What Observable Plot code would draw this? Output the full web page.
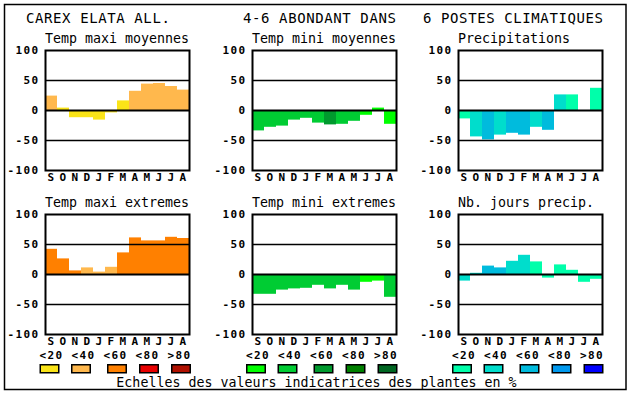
<!DOCTYPE html>
<html><head><meta charset="utf-8">
<script src="https://cdn.jsdelivr.net/npm/d3@7"></script>
<script src="https://cdn.jsdelivr.net/npm/@observablehq/plot@0.6"></script>
<style>
html,body{margin:0;padding:0;background:#fff;}
#root{position:relative;width:630px;height:394px;overflow:hidden;background:#fff;}
.panel{position:absolute;}
#overlay{position:absolute;left:0;top:0;pointer-events:none;}
</style></head><body><div id="root"></div>
<script>
// ---- data ----
const MONTHS = ["S","O","N","D","J","F","M","A","M","J","J","A"];
const CLASSES = ["<20","<40","<60","<80",">80"];
const TICKS = [100, 50, 0, -50, -100];
const TITLES = ["CAREX ELATA ALL.", "4-6 ABONDANT DANS", "6 POSTES CLIMATIQUES"];
const SUBTITLES = ["Temp maxi moyennes","Temp mini moyennes","Precipitations",
                   "Temp maxi extremes","Temp mini extremes","Nb. jours precip."];
const CAPTION = "Echelles des valeurs indicatrices des plantes en %";

const maxiMoyValues = [24, 4, -12, -12, -16, -4, 16, 32, 44, 45, 40, 34];
const maxiMoyClass  = [1, 0, 0, 0, 0, 0, 0, 1, 1, 1, 1, 1];
const miniMoyValues = [-34, -28, -26, -16, -13, -21, -24, -23, -18, -8, 4, -23];
const miniMoyClass  = [1, 1, 1, 1, 1, 1, 2, 1, 1, 0, 0, 0];
const precValues    = [-14, -44, -49, -41, -38, -41, -28, -33, 26, 26, 0, 37];
const precClass     = [0, 1, 2, 1, 2, 2, 1, 2, 1, 0, 0, 0];
const maxiExtValues = [42, 26, 6, 11, 4, 12, 36, 61, 56, 56, 62, 60];
const maxiExtClass  = [2, 2, 2, 1, 1, 1, 2, 2, 2, 2, 2, 2];
const miniExtValues = [-33, -33, -26, -24, -23, -18, -24, -18, -26, -13, -11, -38];
const miniExtClass  = [1, 1, 1, 1, 1, 1, 1, 1, 1, 0, 0, 1];
const joursValues   = [-11, 2, 14, 11, 22, 32, 21, -6, 16, 7, -13, -8];
const joursClass    = [1, 1, 2, 2, 1, 1, 0, 0, 0, 0, 0, 0];

const PAL_MAXI = ["#fae418", "#ffb84d", "#ff8000", "#e80000", "#b01000"];
const PAL_MINI = ["#00ff00", "#00cc33", "#009a2e", "#008000", "#006622"];
const PAL_PREC = ["#00ffaa", "#00ddcc", "#00bbdd", "#0099ee", "#0000ff"];

// ---- layout ----
const root = document.getElementById("root");
const PLOT_LEFT = [45, 252, 458];
const PLOT_TOP = [50, 214];
const ML = 45, MT = 10, MB = 20, PW = 144, PH = 120, MR = 12;

const panels = [
  {values: maxiMoyValues, cls: maxiMoyClass, pal: PAL_MAXI, col: 0, row: 0},
  {values: miniMoyValues, cls: miniMoyClass, pal: PAL_MINI, col: 1, row: 0},
  {values: precValues,    cls: precClass,    pal: PAL_PREC, col: 2, row: 0},
  {values: maxiExtValues, cls: maxiExtClass, pal: PAL_MAXI, col: 0, row: 1},
  {values: miniExtValues, cls: miniExtClass, pal: PAL_MINI, col: 1, row: 1},
  {values: joursValues,   cls: joursClass,   pal: PAL_PREC, col: 2, row: 1}
];

panels.forEach(p => {
  const data = p.values.map((v, i) => ({i, v, c: CLASSES[p.cls[i]]}));
  const chart = Plot.plot({
    width: ML + PW + MR, height: MT + PH + MB,
    marginLeft: ML, marginRight: MR, marginTop: MT, marginBottom: MB,
    style: "font-family:'DejaVu Sans Mono',monospace;font-size:11px;font-weight:bold;letter-spacing:1.4px;background:transparent;overflow:visible;color:black;",
    x: {type: "band", domain: d3.range(12), padding: 0, tickSize: 0, tickPadding: 2.5,
        tickFormat: i => MONTHS[i], label: null},
    y: {domain: [-100, 100], ticks: TICKS, tickSize: 0, tickPadding: 6,
        tickFormat: d => String(d), label: null},
    color: {domain: CLASSES, range: p.pal},
    marks: [
      Plot.barY(data, {x: "i", y: "v", fill: "c"}),
      Plot.ruleY([50, -50], {stroke: "black", strokeWidth: 1.3}),
      Plot.ruleY([0], {stroke: "black", strokeWidth: 2}),
      Plot.frame({stroke: "black", strokeWidth: 2})
    ]
  });
  chart.classList.add("panel");
  chart.style.left = (PLOT_LEFT[p.col] - ML) + "px";
  chart.style.top = (PLOT_TOP[p.row] - MT) + "px";
  root.appendChild(chart);
});

// ---- overlay: border, titles, subtitles, legend, caption ----
const svg = d3.select(root).append("svg").attr("id", "overlay")
  .attr("width", 630).attr("height", 394)
  .attr("font-family", "'DejaVu Sans Mono', monospace");

svg.append("rect").attr("x", 4.5).attr("y", 4.5).attr("width", 621.5).attr("height", 385)
  .attr("fill", "none").attr("stroke", "black").attr("stroke-width", 1.5);

const TITLE_X = [26, 243, 423];
TITLES.forEach((t, k) => {
  svg.append("text").attr("x", TITLE_X[k]).attr("y", 22.5)
    .attr("font-size", 14).attr("letter-spacing", 0.6).attr("fill", "black").text(t);
});

SUBTITLES.forEach((t, k) => {
  const col = k % 3, row = Math.floor(k / 3);
  svg.append("text").attr("x", PLOT_LEFT[col]).attr("y", row === 0 ? 42.5 : 206.5)
    .attr("font-size", 13.3).attr("fill", "black").text(t);
});

const GROUP_X = [39.5, 246, 452];
const SW_OFF = [0, 31.5, 67.5, 99.5, 131.5];
const PALS = [PAL_MAXI, PAL_MINI, PAL_PREC];
GROUP_X.forEach((s, g) => {
  CLASSES.forEach((c, i) => {
    svg.append("text").attr("x", s + 12 + 32 * i).attr("y", 358.5)
      .attr("text-anchor", "middle").attr("font-size", 11).attr("font-weight", "bold")
      .attr("letter-spacing", 1.4).attr("fill", "black").text(c);
    svg.append("rect").attr("x", s + SW_OFF[i] + 0.75).attr("y", 364.75)
      .attr("width", 18.5).attr("height", 8)
      .attr("fill", PALS[g][i]).attr("stroke", "black").attr("stroke-width", 1.5);
  });
});

svg.append("text").attr("x", 316.5).attr("y", 386.5).attr("text-anchor", "middle")
  .attr("font-size", 13.3).attr("fill", "black").text(CAPTION);
</script>
</body></html>
